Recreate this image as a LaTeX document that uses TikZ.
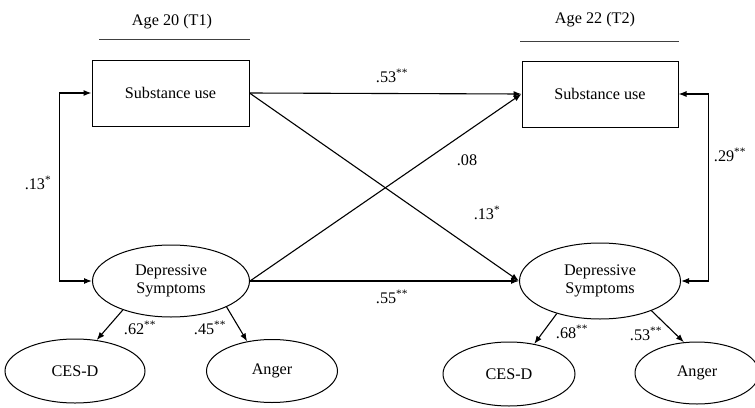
\documentclass[tikz,border=0pt]{standalone}
\usepackage{fontspec}
\setmainfont{Liberation Serif}
\usetikzlibrary{arrows.meta,shapes.geometric}
\begin{document}
\begin{tikzpicture}[x=1pt,y=-1pt,
  every node/.style={font=\fontsize{16.2}{17.5}\selectfont},
  boxnode/.style={draw,line width=1pt,minimum width=157pt,minimum height=66pt,inner sep=0pt},
  ellnode/.style={draw,ellipse,line width=1pt,inner sep=0pt,align=center},
  arr/.style={line width=1.1pt,-{Latex[length=8pt,width=6pt]}},
  arrboth/.style={line width=1.1pt,{Latex[length=8pt,width=6pt]}-{Latex[length=8pt,width=6pt]}},
  lbl/.style={inner sep=1pt}]
\useasboundingbox (0,0) rectangle (755,407);
% headings
\node (h1) at (172,22) {Age 20 (T1)};
\node (h2) at (595,20) {Age 22 (T2)};
\draw[line width=0.9pt,black!75] (99,39) -- (250,39);
\draw[line width=0.9pt,black!75] (520,41) -- (679,41);
% nodes
\node[boxnode] (suL) at (170.5,93) {Substance use};
\node[boxnode,minimum width=156pt] (suR) at (600,94) {Substance use};
\node[ellnode,minimum width=157pt,minimum height=72pt] (dsL) at (171,281) {Depressive\\Symptoms};
\node[ellnode,minimum width=161pt,minimum height=76pt] (dsR) at (600,281) {Depressive\\Symptoms};
\node[ellnode,minimum width=140pt,minimum height=64pt] (cesL) at (75,371) {CES-D};
\node[ellnode,minimum width=131pt,minimum height=63pt] (angL) at (272,371) {Anger};
\node[ellnode,minimum width=132pt,minimum height=64pt] (cesR) at (509,374) {CES-D};
\node[ellnode,minimum width=124pt,minimum height=62pt] (angR) at (697,373) {Anger};
% correlations
\draw[arrboth] (suL.west) -- ++(-32,0) |- (dsL.west);
\draw[arrboth] (suR.east) -- ++(30,0) |- (dsR.east);
% cross-lagged paths
\draw[arr] (suL.east) -- (suR.west);
\draw[arr] (dsL.east) -- (suR.west);
\draw[arr] (suL.east) -- (dsR.west);
\draw[arr] (dsL.east) -- (dsR.west);
% loadings
\draw[arr] (dsL.-149) -- (cesL.55);
\draw[arr] (dsL.-25) -- (angL.130);
\draw[arr] (dsR.-143) -- (cesR.50);
\draw[arr] (dsR.-30) -- (angR.113);
% labels
\node[lbl] (l1) at (38,183) {.13\textsuperscript{*}};
\node[lbl] (l2) at (730,155) {.29\textsuperscript{**}};
\node[lbl] (l3) at (392,76) {.53\textsuperscript{**}};
\node[lbl] (l4) at (467,160) {.08};
\node[lbl] (l5) at (487,213) {.13\textsuperscript{*}};
\node[lbl] (l6) at (392,297) {.55\textsuperscript{**}};
\node[lbl] (l7) at (140,328) {.62\textsuperscript{**}};
\node[lbl] (l8) at (210,328) {.45\textsuperscript{**}};
\node[lbl] (l9) at (572,332) {.68\textsuperscript{**}};
\node[lbl] (l10) at (646,334) {.53\textsuperscript{**}};
\end{tikzpicture}
\end{document}
